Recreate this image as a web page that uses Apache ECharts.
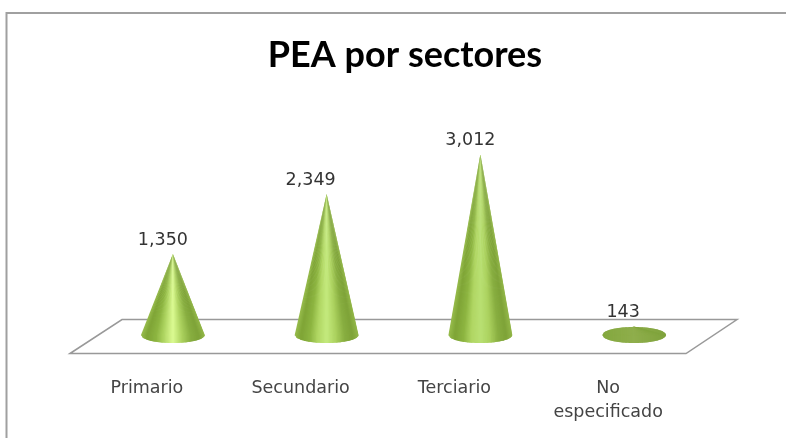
<!DOCTYPE html>
<html>
<head>
<meta charset="utf-8">
<style>html,body{margin:0;padding:0;background:#fff}#c{width:786px;height:438px}</style>
<script src="https://cdn.jsdelivr.net/npm/echarts@6/dist/echarts.min.js"></script>
</head>
<body>
<div id="c"></div>
<script>
const categories = ['Primario', 'Secundario', 'Terciario', 'No\nespecificado'];
const values = [1350, 2349, 3012, 143];
const titleText = 'PEA por sectores';

const chart = echarts.init(document.getElementById('c'), null, {renderer: 'canvas'});
const fmt = v => v.toLocaleString('en-US');
const labelShift = [-10, -16, -10, -11];
const centerTones = ['#dcfb92', '#c4ea7e', '#b9e073', '#8fae4c'];

function shade(frac, i) {
  // frac runs 0..1 across the cone; dark flanks, light central stripe
  const flat = i === 3;
  const stops = flat
    ? [[0, '#84a83f'], [0.5, centerTones[i]], [1, '#7fa33c']]
    : [[0, '#98bd4c'], [0.1, '#7ea436'], [0.24, '#8db541'], [0.36, '#b0d663'],
       [0.5, centerTones[i]], [0.64, '#acd25f'], [0.78, '#88ae40'], [0.9, '#7ea338'], [1, '#93b748']];
  let s = 0;
  while (s < stops.length - 2 && frac > stops[s + 1][0]) s++;
  const t = (frac - stops[s][0]) / (stops[s + 1][0] - stops[s][0]);
  return echarts.color.lerp(Math.min(1, Math.max(0, t)), [stops[s][1], stops[s + 1][1]]);
}

function renderCone(params, api) {
  const i = api.value(0);
  const v = api.value(1);
  const base = api.coord([i, 0]);
  const tip = api.coord([i, v]);
  const rx = api.size([1, 0])[0] * 0.208;
  const ry = 8;
  const low = base[1] - tip[1] < 2 * ry;
  const children = [];
  const N = 48;
  const half = x => ry * Math.sqrt(Math.max(0, 1 - Math.pow((x - base[0]) / rx, 2)));
  for (let k = 0; k < N; k++) {
    const x0 = base[0] - rx + 2 * rx * k / N;
    const x1 = base[0] - rx + 2 * rx * (k + 1) / N;
    const xo = k === N - 1 ? x1 : x1 + 1;
    const col = shade((k + 0.5) / N, i);
    const style = {fill: col};
    const top = low ? 1 : 0.02;
    children.push({type: 'polygon', shape: {points: [[x0, base[1] - top * half(x0)], [xo, base[1] - top * half(xo)], [xo, base[1] + half(xo)], [x0, base[1] + half(x0)]]}, style: style});
    children.push({type: 'polygon', shape: {points: [[tip[0], tip[1]], [x0, base[1] + 0.2], [xo, base[1] + 0.2]]}, style: style});
  }
  children.push({type: 'text', x: base[0] + labelShift[i], y: tip[1] - 14, style: {
    text: fmt(v), fill: '#333', font: '17.5px "DejaVu Sans"', align: 'center', verticalAlign: 'middle'
  }});
  return {type: 'group', children: children};
}

chart.setOption({
  animation: false,
  backgroundColor: '#fff',
  title: {
    text: titleText, left: 400, top: 32, textAlign: 'center',
    textStyle: {fontFamily: 'Lato', fontWeight: 700, fontSize: 36, color: '#000'}
  },
  grid: {left: 96, width: 615, top: 35, height: 300},
  xAxis: {
    type: 'category', data: categories,
    axisLine: {show: false}, axisTick: {show: false}, splitLine: {show: false},
    axisLabel: {
      margin: 41, interval: 0, padding: [0, 52, 0, 0],
      fontFamily: 'DejaVu Sans', fontSize: 17.5, lineHeight: 24, color: '#444',
      verticalAlign: 'top'
    }
  },
  yAxis: {type: 'value', min: 0, max: 5000, show: false, splitLine: {show: false}},
  graphic: [
    {type: 'polyline', z: 0, silent: true, shape: {points: [[6.5, 438], [6.5, 13], [786, 13]]},
      style: {stroke: '#a0a0a0', lineWidth: 2, fill: null}},
    {type: 'polygon', z: 0, silent: true, shape: {points: [[70, 353.5], [122, 319.5], [737, 319.5], [686, 353.5]]},
      style: {stroke: '#999', lineWidth: 1.5, fill: '#fff'}}
  ],
  series: [{
    type: 'custom',
    renderItem: renderCone,
    encode: {x: 0, y: 1},
    clip: false,
    data: values.map((v, i) => [i, v])
  }]
});
</script>
</body>
</html>
